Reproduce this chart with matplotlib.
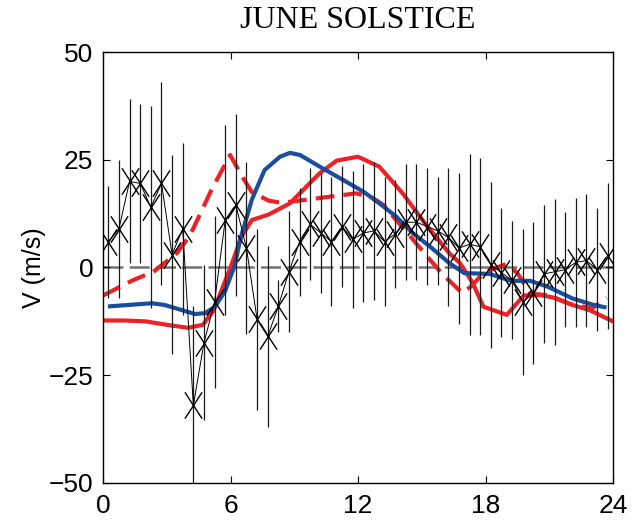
import numpy as np
import matplotlib
matplotlib.use('Agg')
import matplotlib.pyplot as plt
from matplotlib.path import Path

matplotlib.rcParams.update({
    'font.family': 'Liberation Sans',
    'font.size': 19,
})

# observed winds, half-hourly bins
obs_hours = [0.25, 0.75, 1.25, 1.75, 2.25, 2.75, 3.25, 3.75,
             4.25, 4.75, 5.25, 5.75, 6.25, 6.75, 7.25, 7.75,
             8.25, 8.75, 9.25, 9.75, 10.25, 10.75, 11.25, 11.75,
             12.25, 12.75, 13.25, 13.75, 14.25, 14.75, 15.25, 15.75,
             16.25, 16.75, 17.25, 17.75, 18.25, 18.75, 19.25, 19.75,
             20.25, 20.75, 21.25, 21.75, 22.25, 22.75, 23.25, 23.75]
obs_v = [6, 9, 20, 19.5, 14, 19.5, 3, 9,
         -32, -17.5, -8, 11, 14.5, 4.5, -12, -16,
         -9, -1, 6, 10, 8, 6, 9.5, 6.5,
         8, 8.5, 6, 7.8, 10.5, 10.5, 9.5, 8.5,
         7, 4.5, 5.4, 4.8, 0.6, -1.2, -3, -8,
         -6, -1.5, -1, -0.5, 1.2, 1.6, -0.5, 2.7]
obs_err = [13, 16, 19, 18.5, 23.5, 23.5, 23, 20,
           23, 18, 20, 22, 21, 20, 21, 21,
           6, 14, 12.5, 13, 14, 15, 14, 16,
           16, 16, 15, 12.5, 13.5, 13.5, 13.5, 12.5,
           16, 17.5, 21, 20.5, 19.3, 15, 13.7, 17,
           16.5, 16, 17, 13.3, 15, 15.5, 14.3, 17]

# model curve 1 (red solid)
m1_hours = [0, 1, 2, 3, 4, 4.7, 5.2, 5.6, 6, 6.5, 7, 7.8, 8.8, 10.2, 11, 12,
            13, 14.1, 15.2, 16.3, 16.8, 17.4, 17.9, 19.0, 19.8, 20.6, 21.2,
            22.1, 22.9, 24]
m1_v = [-12.3, -12.3, -12.5, -13.3, -14.0, -13.3, -10, -5, 0, 7, 11, 12.3,
        14.9, 21.9, 24.8, 25.7, 23.4, 17.2, 9.9, 3.3, 1, -3.6, -9.1, -11,
        -6.5, -6.4, -7, -8.7, -9.9, -12.5]

# model curve 2 (red dashed)
m2_hours = [0, 1.43, 2.37, 3.47, 4.1, 5.1, 5.98, 6.5, 7.0, 7.8, 8.4, 10, 11.9,
            12.6, 13.2, 13.8, 14.6, 15.4, 16.0, 16.9, 17.3, 17.9, 18.4, 19.0,
            19.5, 20.1, 21, 22, 23, 23.7]
m2_v = [-6.5, -2.9, -1, 3.3, 7.5, 18, 26.1, 21.5, 17.5, 15.5, 15, 16, 17.2,
        16.4, 14.5, 11, 6.4, 1.7, -1.7, -5.9, -4.5, -1.3, -0.2, 0.8, -1.3,
        -6, -6.5, -8.5, -9.5, -7]

# model curve 3 (blue)
m3_hours = [0.33, 2.3, 2.9, 4.33, 4.8, 5.27, 5.74, 6.2, 6.45, 7.0, 7.6, 8.33,
            8.8, 9.27, 10.2, 11.3, 12.25, 13.0, 13.8, 14.6, 15.4, 16.3, 17.0,
            18.2, 19.2, 20.1, 20.9, 22.1, 23.1, 23.6]
m3_v = [-9, -8.3, -8.7, -10.8, -10.6, -9.1, -5.5, 0.5, 6.4, 15.7, 22.6, 25.7,
        26.6, 26.1, 23.4, 20.3, 17.6, 14.9, 11.8, 7.9, 4.8, 1, -1.3, -1.5,
        -3.1, -3.1, -4.4, -7.2, -8.7, -9.2]

xticks = [0, 6, 12, 18, 24]
yticks = [-50, -25, 0, 25, 50]
yticklabels = ['\u221250', '\u221225', '0', '25', '50']

# tall X marker
xmark = Path([(-0.65, -1), (0.65, 1), (-0.65, 1), (0.65, -1)],
             [Path.MOVETO, Path.LINETO, Path.MOVETO, Path.LINETO])

fig = plt.figure(figsize=(6.34, 5.2), dpi=100)
ax = fig.add_axes([0.1625, 0.0712, 0.8044, 0.8288])

ax.axhline(0, color='0.45', lw=1.8, dashes=(8, 2.5), zorder=1)

ax.plot(m1_hours, m1_v, color='#ee2124', lw=3.0, zorder=2)
ax.plot(m2_hours, m2_v, color='#ee2124', lw=3.0, dashes=(4.5, 2.2), zorder=2)
ax.plot(m3_hours, m3_v, color='#1c4e9f', lw=3.0, zorder=2)

ax.errorbar(obs_hours, obs_v, yerr=obs_err, fmt='none', ecolor='0.1',
            elinewidth=0.9, zorder=3)
ax.plot(obs_hours, obs_v, color='k', lw=0.7, marker=xmark, ms=19,
        mew=1.0, mfc='none', mec='k', zorder=4)

ax.set_xlim(0, 24)
ax.set_ylim(-50, 50)
ax.set_xticks(xticks)
ax.set_yticks(yticks)
ax.set_yticklabels(yticklabels)
ax.tick_params(direction='in', length=5, width=0.8, top=True, right=True,
               labelsize=19)
ax.tick_params(axis='x', pad=8)
ax.tick_params(axis='y', pad=7)
for s in ax.spines.values():
    s.set_linewidth(1.0)

ax.set_ylabel('V (m/s)', fontsize=18, labelpad=2)
ax.set_title('JUNE SOLSTICE', fontfamily='Liberation Serif', fontsize=23,
             pad=17)

plt.savefig('out.png', dpi=100)
